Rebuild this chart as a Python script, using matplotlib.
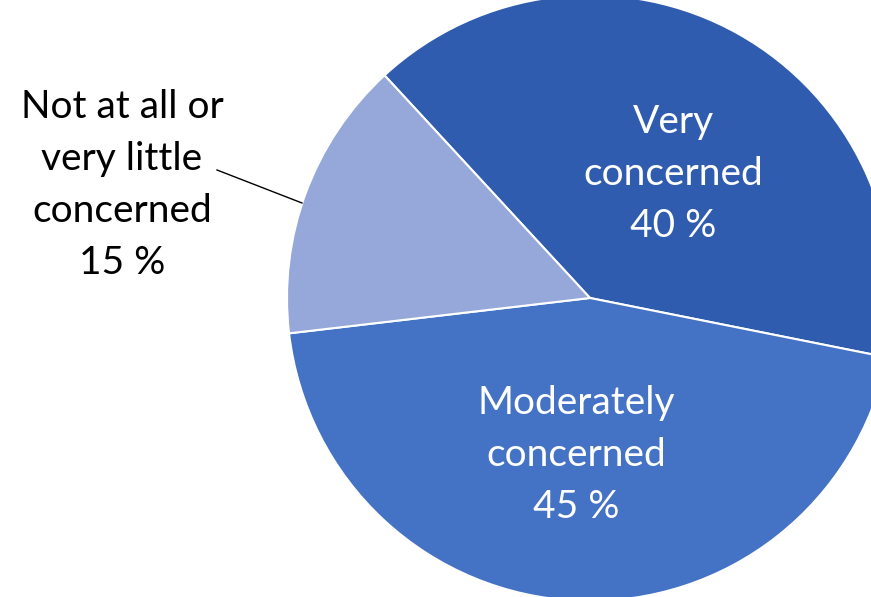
import matplotlib
matplotlib.use("Agg")
import matplotlib.pyplot as plt

categories = ["Very\nconcerned", "Moderately\nconcerned", "Not at all or\nvery little\nconcerned"]
values = [40, 45, 15]
colors = ["#2F5CAE", "#4472C4", "#95A8D9"]

W, H = 871, 597
fig = plt.figure(figsize=(W / 100, H / 100), dpi=100)
ax = fig.add_axes([0, 0, 1, 1])

cx, cy, r = 590, H - 298, 303
wedges, _ = ax.pie(values, colors=colors, startangle=132.7, counterclock=False,
                   center=(cx, cy), radius=r, frame=True,
                   wedgeprops=dict(edgecolor="white", linewidth=1.5))
ax.set_xlim(0, W)
ax.set_ylim(0, H)
ax.set_aspect("equal")
ax.axis("off")

font = "Lato"
fs = 28
ls = 1.55
labels = [f"{c}\n{v} %" for c, v in zip(categories, values)]
ax.text(673, H - 174, labels[0], ha="center", va="center", color="white",
        fontsize=fs, family=font, linespacing=ls)
ax.text(576, H - 455, labels[1], ha="center", va="center", color="white",
        fontsize=fs, family=font, linespacing=ls)
ax.text(122, H - 185, labels[2], ha="center", va="center", color="black",
        fontsize=fs, family=font, linespacing=ls)
ax.plot([217, 302], [H - 170, H - 203], color="black", linewidth=1)

fig.savefig("out.png", dpi=100)
